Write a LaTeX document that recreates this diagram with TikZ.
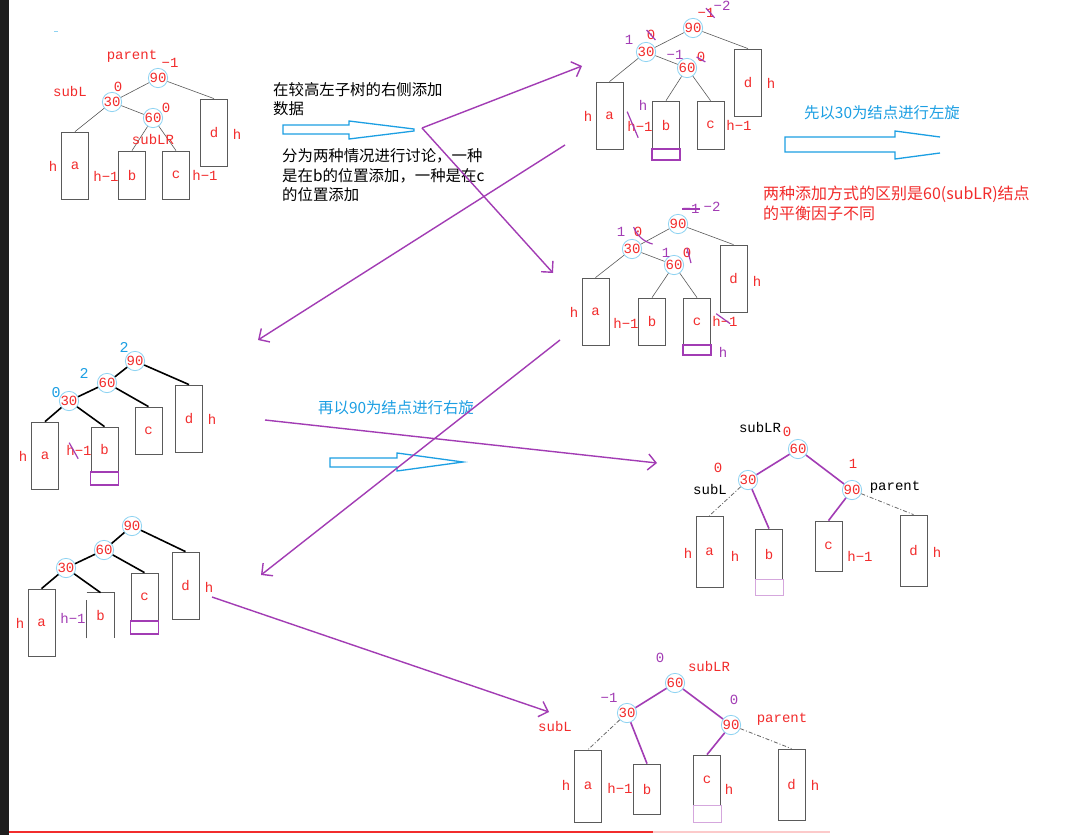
\documentclass[tikz,border=0pt]{standalone}
\usepackage{fontspec}
\setmainfont{Liberation Mono}
\newfontfamily\cjk{Noto Sans CJK SC}
\usetikzlibrary{arrows.meta}
\definecolor{labred}{HTML}{F22C2C}
\definecolor{penpurple}{HTML}{A23CB4}
\definecolor{ringblue}{HTML}{8ED3F2}
\definecolor{noteblue}{HTML}{1C9FE3}
\definecolor{boxgray}{HTML}{5A5A5A}
\definecolor{stripgray}{HTML}{1E1E1E}

\tikzset{
  vtx/.style={circle,draw=ringblue,line width=0.8pt,minimum size=18pt,inner sep=0pt,
    text=labred,font=\fontsize{14}{14}\selectfont},
  subtree/.style={draw=boxgray,line width=0.8pt,minimum width=27pt,inner sep=0pt,
    text=labred,font=\fontsize{14}{14}\selectfont},
  addbox/.style={draw=penpurple,line width=1.2pt,minimum width=28pt,inner sep=0pt},
  lab/.style={inner sep=0pt,text=labred,font=\fontsize{14}{14}\selectfont},
  pen/.style={inner sep=0pt,text=penpurple,font=\fontsize{14}{14}\selectfont},
  bf/.style={inner sep=0pt,text=noteblue,font=\fontsize{15}{15}\selectfont},
  ptr/.style={inner sep=0pt,text=black,font=\fontsize{14}{14}\selectfont},
  edge/.style={draw=boxgray,line width=0.6pt},
  heavy/.style={draw=black,line width=1.6pt},
  turn/.style={draw=penpurple,line width=1.6pt},
  trace/.style={draw=gray!80!black,line width=0.8pt,dash pattern=on 4pt off 2pt on 1pt off 2pt},
  strike/.style={draw=penpurple,line width=1.2pt},
  flow/.style={draw=penpurple,line width=1.4pt,-{Straight Barb[length=8pt,width=16pt]}},
  hollow/.style={draw=noteblue,line width=1.3pt},
  note/.style={inner sep=0pt,align=left,font=\cjk\fontsize{15.4}{19.5}\selectfont},
}

\begin{document}
\begin{tikzpicture}[x=1pt,y=-1pt]
  \fill[white] (0,0) rectangle (1092,835);
  \useasboundingbox (0,0) rectangle (1092,835);
  \fill[stripgray] (0,0) rectangle (9,835);
  \draw[ringblue,line width=1pt] (54,31) -- (58,31);

  % starting tree
  \node[vtx] (t1-90) at (158,78) {90};
  \node[vtx] (t1-30) at (112,102) {30};
  \node[vtx] (t1-60) at (153,118) {60};
  \node[subtree,minimum height=67pt] (t1-a) at (75,165.5) {a};
  \node[subtree,minimum height=48pt] (t1-b) at (132,175) {b};
  \node[subtree,minimum height=48pt] (t1-c) at (176,175) {c};
  \node[subtree,minimum height=67pt] (t1-d) at (214,132.5) {d};
  \draw[edge] (t1-90) -- (t1-30);
  \draw[edge] (t1-90) -- (t1-d.north);
  \draw[edge] (t1-30) -- (t1-a.north);
  \draw[edge] (t1-30) -- (t1-60);
  \draw[edge] (t1-60) -- (t1-b.north);
  \draw[edge] (t1-60) -- (t1-c.north);
  \node[lab] (t1-parent) at (132,56) {parent};
  \node[lab] (t1-bf90) at (170,63) {−1};
  \node[lab] (t1-subL) at (70,91) {subL};
  \node[lab] (t1-bf30) at (118,87) {0};
  \node[lab] (t1-bf60) at (166,108) {0};
  \node[lab] (t1-subLR) at (153,139) {subLR};
  \node[lab] (t1-ha) at (53,166) {h};
  \node[lab] (t1-hb) at (106,176) {h−1};
  \node[lab] (t1-hc) at (205,175) {h−1};
  \node[lab] (t1-hd) at (237,134) {h};

  \node[note,anchor=west] (addNote) at (273,99) {在较高左子树的右侧添加\\数据};
  \draw[hollow] (283,125) -- (349,125) -- (349,121) -- (414,129) -- (414,131)
    -- (349,139) -- (349,134) -- (283,134) -- cycle;
  \node[note,anchor=west] (caseNote) at (282,175.5)
    {分为两种情况进行讨论，一种\\是在b的位置添加，一种是在c\\的位置添加};

  % case b
  \node[vtx] (t2-90) at (693,28) {90};
  \node[vtx] (t2-30) at (646,52) {30};
  \node[vtx] (t2-60) at (687,68) {60};
  \node[subtree,minimum height=67pt] (t2-a) at (609.5,115.5) {a};
  \node[subtree,minimum height=48pt] (t2-b) at (666,125) {b};
  \node[subtree,minimum height=48pt] (t2-c) at (710.5,125) {c};
  \node[subtree,minimum height=67pt] (t2-d) at (748,82.5) {d};
  \node[addbox,minimum height=11pt] (t2-new) at (666,154.5) {};
  \draw[edge] (t2-90) -- (t2-30);
  \draw[edge] (t2-90) -- (t2-d.north);
  \draw[edge] (t2-30) -- (t2-a.north);
  \draw[edge] (t2-30) -- (t2-60);
  \draw[edge] (t2-60) -- (t2-b.north);
  \draw[edge] (t2-60) -- (t2-c.north);
  \node[lab] (t2-old90) at (706,13) {−1};
  \node[pen] (t2-bf90) at (722,6) {−2};
  \node[pen] (t2-bf30) at (629,40) {1};
  \node[lab] (t2-old30) at (651,35) {0};
  \node[pen] (t2-bf60) at (675,55) {−1};
  \node[lab] (t2-old60) at (701,57) {0};
  \node[lab] (t2-ha) at (588,116) {h};
  \node[pen] (t2-hnew) at (643,105) {h};
  \node[lab] (t2-hb) at (640,126) {h−1};
  \node[lab] (t2-hc) at (739,125) {h−1};
  \node[lab] (t2-hd) at (771,83) {h};
  \draw[strike] (t2-old90.north) -- (t2-old90.south east);
  \draw[strike] (t2-old30.north west) -- (t2-old30.south east);
  \draw[strike] (t2-old60.west) -- (t2-old60.south east);
  \draw[strike] (t2-hb.north west) ++(0,-9) -- ++(11,26);

  \node[note,anchor=center,text=noteblue] (leftNote) at (882,113) {先以30为结点进行左旋};
  \draw[hollow] (940,137) -- (895,131) -- (895,137) -- (785,137) -- (785,152)
    -- (895,152) -- (895,159) -- (940,153);
  \node[note,anchor=west,text=labred,font=\cjk\fontsize{16}{20}\selectfont] (diffNote)
    at (763,203) {两种添加方式的区别是60(subLR)结点\\的平衡因子不同};

  % case c
  \node[vtx] (t3-90) at (678,224) {90};
  \node[vtx] (t3-30) at (632,249) {30};
  \node[vtx] (t3-60) at (674,265) {60};
  \node[subtree,minimum height=67pt] (t3-a) at (595.5,311.5) {a};
  \node[subtree,minimum height=47pt] (t3-b) at (652,321.5) {b};
  \node[subtree,minimum height=47pt] (t3-c) at (697,321.5) {c};
  \node[subtree,minimum height=67pt] (t3-d) at (733.5,278.5) {d};
  \node[addbox,minimum height=10pt] (t3-new) at (697,350) {};
  \draw[edge] (t3-90) -- (t3-30);
  \draw[edge] (t3-90) -- (t3-d.north);
  \draw[edge] (t3-30) -- (t3-a.north);
  \draw[edge] (t3-30) -- (t3-60);
  \draw[edge] (t3-60) -- (t3-b.north);
  \draw[edge] (t3-60) -- (t3-c.north);
  \node[pen] (t3-old90) at (691,209) {−1};
  \node[pen] (t3-bf90) at (712,207) {−2};
  \node[pen] (t3-bf30) at (621,232) {1};
  \node[lab] (t3-old30) at (638,232) {0};
  \node[pen] (t3-bf60) at (666,253) {1};
  \node[lab] (t3-old60) at (687,253) {0};
  \node[lab] (t3-ha) at (574,312) {h};
  \node[lab] (t3-hb) at (626,323) {h−1};
  \node[lab] (t3-hc) at (725,321) {h−1};
  \node[pen] (t3-hnew) at (723,352) {h};
  \node[lab] (t3-hd) at (757,281) {h};
  \draw[strike] (t3-old90.west) -- (t3-old90.east);
  \draw[strike] (t3-old30.north west) to[bend right=25] ++(19,17);
  \draw[strike] (t3-old60.north) -- ++(4,15);
  \draw[strike] (t3-hc.north west) ++(4,-2) -- ++(14,10);

  % after left rotation, case b
  \node[vtx] (t4-90) at (135,361) {90};
  \node[vtx] (t4-60) at (107,383) {60};
  \node[vtx] (t4-30) at (69,401) {30};
  \node[subtree,minimum height=67pt] (t4-a) at (45,455.5) {a};
  \node[subtree,minimum height=45pt] (t4-b) at (104.5,449.5) {b};
  \node[subtree,minimum height=47pt] (t4-c) at (148.5,430.5) {c};
  \node[subtree,minimum height=67pt] (t4-d) at (189,418.5) {d};
  \node[addbox,minimum height=13pt] (t4-new) at (104.5,478.5) {};
  \draw[heavy] (t4-90) -- (t4-60);
  \draw[heavy] (t4-90) -- (t4-d.north);
  \draw[heavy] (t4-60) -- (t4-30);
  \draw[heavy] (t4-60) -- (t4-c.north);
  \draw[heavy] (t4-30) -- (t4-a.north);
  \draw[heavy] (t4-30) -- (t4-b.north);
  \node[bf] (t4-bf90) at (124,347) {2};
  \node[bf] (t4-bf60) at (84,373) {2};
  \node[bf] (t4-bf30) at (56,393) {0};
  \node[lab] (t4-ha) at (23,456) {h};
  \node[lab] (t4-hb) at (79,450) {h−1};
  \node[lab] (t4-hd) at (212,419) {h};
  \draw[strike] (t4-hb.north west) ++(3,-2) -- ++(9,16);

  % after left rotation, case c
  \node[vtx] (t5-90) at (132,526) {90};
  \node[vtx] (t5-60) at (104,550) {60};
  \node[vtx] (t5-30) at (66,568) {30};
  \node[subtree,minimum height=67pt] (t5-a) at (41.5,622.5) {a};
  \node[subtree,draw=none,minimum height=45pt] (t5-b) at (100.5,615.5) {b};
  \node[subtree,minimum height=48pt] (t5-c) at (144.5,597) {c};
  \node[subtree,minimum height=67pt] (t5-d) at (185.5,585.5) {d};
  \node[addbox,minimum height=13pt] (t5-new) at (144.5,627.5) {};
  \draw[boxgray,line width=0.8pt] (t5-b.south west) -- ++(0,-38);
  \draw[boxgray,line width=0.8pt] (t5-b.north west) -- (t5-b.north east) -- (t5-b.south east);
  \draw[heavy] (t5-90) -- (t5-60);
  \draw[heavy] (t5-90) -- (t5-d.north);
  \draw[heavy] (t5-60) -- (t5-30);
  \draw[heavy] (t5-60) -- (t5-c.north);
  \draw[heavy] (t5-30) -- (t5-a.north);
  \draw[heavy] (t5-30) -- (t5-b.north);
  \node[lab] (t5-ha) at (20,623) {h};
  \node[pen] (t5-hb) at (73,618) {h−1};
  \node[lab] (t5-hd) at (209,587) {h};

  \node[note,anchor=west,text=noteblue] (rightNote) at (318,408) {再以90为结点进行右旋};
  \draw[hollow] (330,458) -- (397,458) -- (397,453) -- (463,462) -- (397,471)
    -- (397,467) -- (330,467) -- cycle;

  % after right rotation, case b
  \node[vtx] (t6-60) at (798,449) {60};
  \node[vtx] (t6-30) at (748,480) {30};
  \node[vtx] (t6-90) at (852,490) {90};
  \node[subtree,minimum height=71pt] (t6-a) at (709.5,551.5) {a};
  \node[subtree,minimum height=50pt] (t6-b) at (769,554) {b};
  \node[subtree,minimum height=50pt] (t6-c) at (828.5,546) {c};
  \node[subtree,minimum height=71pt] (t6-d) at (913.5,550.5) {d};
  \node[addbox,draw=penpurple!45,line width=0.8pt,minimum height=16pt] (t6-new) at (769,587) {};
  \draw[turn] (t6-30) -- (t6-60);
  \draw[turn] (t6-60) -- (t6-90);
  \draw[turn] (t6-30) -- (t6-b.north);
  \draw[turn] (t6-90) -- (t6-c.north);
  \draw[trace] (t6-30) -- (t6-a.north);
  \draw[trace] (t6-90) -- (t6-d.north);
  \node[ptr] (t6-subLR) at (760,427) {subLR};
  \node[lab] (t6-bf60) at (787,432) {0};
  \node[lab] (t6-bf30) at (718,468) {0};
  \node[ptr] (t6-subL) at (710,489) {subL};
  \node[lab] (t6-bf90) at (853,464) {1};
  \node[ptr] (t6-parent) at (895,487) {parent};
  \node[lab] (t6-ha) at (688,553) {h};
  \node[lab] (t6-hb) at (735,556) {h};
  \node[lab] (t6-hc) at (860,556) {h−1};
  \node[lab] (t6-hd) at (937,552) {h};

  % after right rotation, case c
  \node[vtx] (t7-60) at (675,683) {60};
  \node[vtx] (t7-30) at (627,713) {30};
  \node[vtx] (t7-90) at (731,725) {90};
  \node[subtree,minimum height=72pt] (t7-a) at (588,786) {a};
  \node[subtree,minimum height=50pt] (t7-b) at (647,789) {b};
  \node[subtree,minimum height=50pt] (t7-c) at (707,780) {c};
  \node[subtree,minimum height=71pt] (t7-d) at (791.5,784.5) {d};
  \node[addbox,draw=penpurple!45,line width=0.8pt,minimum height=17pt] (t7-new) at (707,813.5) {};
  \draw[turn] (t7-30) -- (t7-60);
  \draw[turn] (t7-60) -- (t7-90);
  \draw[turn] (t7-30) -- (t7-b.north);
  \draw[turn] (t7-90) -- (t7-c.north);
  \draw[trace] (t7-30) -- (t7-a.north);
  \draw[trace] (t7-90) -- (t7-d.north);
  \node[pen] (t7-bf60) at (660,658) {0};
  \node[lab] (t7-subLR) at (709,666) {subLR};
  \node[pen] (t7-bf30) at (609,698) {−1};
  \node[pen] (t7-bf90) at (734,700) {0};
  \node[lab] (t7-parent) at (782,719) {parent};
  \node[lab] (t7-subL) at (555,726) {subL};
  \node[lab] (t7-ha) at (566,785) {h};
  \node[lab] (t7-hb) at (620,788) {h−1};
  \node[lab] (t7-hc) at (729,789) {h};
  \node[lab] (t7-hd) at (815,785) {h};

  % pen strokes between the steps
  \coordinate (split) at (422,128);
  \coordinate (toCaseB) at (582,66);
  \coordinate (toCaseC) at (553,273);
  \coordinate (fromCaseB) at (565,145);
  \coordinate (toRotB) at (258,340);
  \coordinate (fromCaseC) at (560,340);
  \coordinate (toRotC) at (261,575);
  \coordinate (fromRotB) at (265,420);
  \coordinate (toDoneB) at (657,463);
  \coordinate (fromRotC) at (212,597);
  \coordinate (toDoneC) at (549,712);
  \draw[flow] (split) -- (toCaseB);
  \draw[flow] (split) -- (toCaseC);
  \draw[flow] (fromCaseB) -- (toRotB);
  \draw[flow] (fromCaseC) -- (toRotC);
  \draw[flow] (fromRotB) -- (toDoneB);
  \draw[flow] (fromRotC) -- (toDoneC);

  \draw[labred,line width=2pt] (9,832) -- (653,832);
  \draw[labred!25,line width=2pt] (653,832) -- (830,832);
\end{tikzpicture}
\end{document}
